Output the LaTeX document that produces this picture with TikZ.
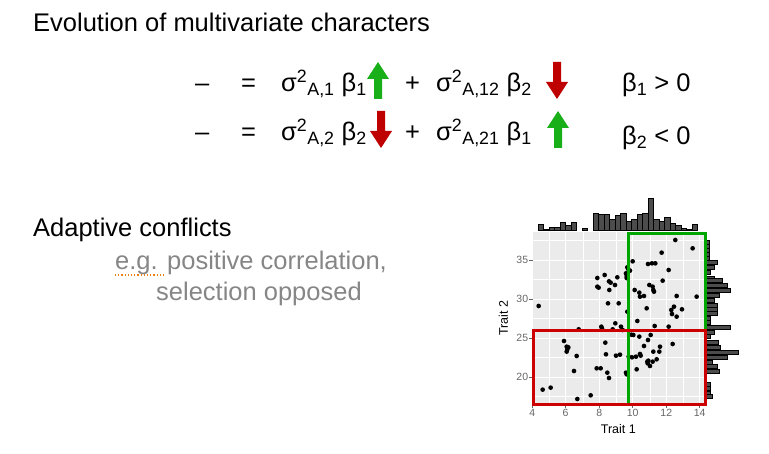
\documentclass[tikz,border=0pt]{standalone}
\usepackage{fontspec}
\setmainfont{Liberation Sans}
\begin{document}
\begin{tikzpicture}[x=1pt,y=-1pt,
  txt/.style={anchor=base west,inner sep=0pt,font=\fontsize{25.5}{28}\selectfont},
  gtxt/.style={txt,text=gray!95},
  upar/.style={fill=green!65!black!90,draw=none},
  dnar/.style={fill=red!75!black,draw=none},
  bar/.style={fill=black!70,draw=black,line width=0.5pt},
  dot/.style={fill=black,draw=none},
  ax/.style={font=\fontsize{10.5}{11}\selectfont,text=black!60,inner sep=1pt}]
\useasboundingbox (0,0) rectangle (769,454);
\node[txt] (title) at (33,32) {Evolution of multivariate characters};
% row 1
\node[txt] (m1) at (195,92) {–};
\node[txt] (e1) at (241,92) {=};
\node[txt] (t1) at (281,92) {σ\textsuperscript{2}\textsubscript{A,1} β\textsubscript{1}};
\node[txt] (p1) at (405,92) {+};
\node[txt] (t2) at (436,92) {σ\textsuperscript{2}\textsubscript{A,12} β\textsubscript{2}};
\node[txt] (c1) at (622,92) {β\textsubscript{1} > 0};
% row 2
\node[txt] (m2) at (195,141) {–};
\node[txt] (e2) at (241,141) {=};
\node[txt] (t3) at (281,141) {σ\textsuperscript{2}\textsubscript{A,2} β\textsubscript{2}};
\node[txt] (p2) at (405,141) {+};
\node[txt] (t4) at (436,141) {σ\textsuperscript{2}\textsubscript{A,21} β\textsubscript{1}};
\node[txt] (c2) at (622,145) {β\textsubscript{2} < 0};
% arrows
\newcommand\uparr[2]{\fill[upar] (#1-4,#2+37) -- (#1-4,#2+17) -- (#1-11,#2+17) -- (#1,#2) -- (#1+11,#2+17) -- (#1+4,#2+17) -- (#1+4,#2+37) -- cycle;}
\newcommand\dnarr[2]{\fill[dnar] (#1-4,#2) -- (#1-4,#2+20) -- (#1-11,#2+20) -- (#1,#2+37) -- (#1+11,#2+20) -- (#1+4,#2+20) -- (#1+4,#2) -- cycle;}
\uparr{378}{62}
\dnarr{557}{62}
\dnarr{381}{111}
\uparr{558}{111}
\node[txt] (ac) at (33,237) {Adaptive conflicts};
\node[gtxt] (eg) at (115,270) {e.g. positive correlation,};
\node[gtxt] (so) at (156,301) {selection opposed};
\draw[orange!70!brown,dotted,line width=1.2pt] (115,275) -- (164,275);
% plot
\begin{scope}[shift={(490,190)},x=0.3333pt,y=-0.3333pt]
\fill[black!8] (128,125) rectangle (648,645);
\foreach \x in {177.5,278,378.5,479,579.5} \draw[white,line width=0.3pt] (\x,125) -- (\x,645);
\foreach \y in {150,268,385,503,620} \draw[white,line width=0.3pt] (128,\y) -- (648,\y);
\foreach \x/\l in {127/4,227/6,328/8,428/10,529/12,629/14} {\draw[white,line width=0.8pt] (\x,125) -- (\x,645); \draw[black!60] (\x,645) -- (\x,655); \node[ax,anchor=north] at (\x,655) {\l};}
\foreach \y/\l in {210/35,327/30,444/25,562/20} {\draw[white,line width=0.8pt] (128,\y) -- (648,\y); \draw[black!60] (118,\y) -- (128,\y); \node[ax,anchor=east] at (118,\y) {\l};}
\node[font=\fontsize{12.5}{13}\selectfont,inner sep=0pt] (xl) at (385,718) {Trait 1};
\node[font=\fontsize{12.5}{13}\selectfont,inner sep=0pt,rotate=90] (yl) at (40,385) {Trait 2};
\foreach \p in {(146,348),(158,599),(182,593),(222,453),(230,470),(232,478),(230,485),(235,472),(260,498),(262,627),(266,418),(252,543),(302,616),(320,535),(322,290),(322,264),(326,293),(332,535),(334,410),(336,415),(344,255),(346,458),(348,493),(352,548),(354,340),(357,564),(357,274),(358,300),(362,278),(368,418),(375,285),(376,400),(378,497),(382,262),(386,340),(390,494),(393,410),(398,420),(408,250),(410,258),(410,264),(412,232),(412,365),(408,548),(410,553),(416,500),(420,242),(428,214),(430,435),(434,300),(438,500),(440,538),(442,393),(448,440),(448,308),(450,320),(452,497),(450,492),(462,318),(462,468),(470,355),(472,515),(473,520),(474,222),(474,450),(475,512),(480,528),(478,285),(482,435),(486,220),(488,290),(490,300),(492,305),(494,408),(496,220),(488,515),(490,485),(500,508),(508,485),(510,470),(515,188),(518,272),(536,240),(536,410),(544,360),(546,372),(548,462),(552,350),(556,150),(560,318),(560,380),(576,358),(608,175),(620,320),(424,434),(426,502),(415,238)}
  \fill[dot] \p circle (7);
% top histogram
\foreach \h [count=\i from 0] in {20,5,10,10,25,15,25,0,8,0,52,48,48,35,45,52,28,35,48,52,97,35,28,40,22,15,8,5,20}
  {\ifnum\h>0 \draw[bar] (144+16.5*\i,122) rectangle (144+16.5*\i+16.5,122-\h);\fi}
% right histogram
\foreach \yy/\w in {150/8,162/8,175/8,188/8,200/8,212/32,227/22,242/10,258/22,265/48,280/62,295/72,310/38,325/22,340/32,352/32,365/32,378/10,392/10,405/70,420/22,432/10,450/35,465/40,480/95,495/62,510/18,522/32,537/38,578/10,590/10,603/10,613/18}
  \draw[bar] (650,\yy) rectangle (650+\w,\yy+12);
\draw[green!65!black,line width=3pt] (416,132) rectangle (646,645);
\draw[red!80!black,line width=3pt] (130,423) rectangle (646,645);
\end{scope}
\end{tikzpicture}
\end{document}
